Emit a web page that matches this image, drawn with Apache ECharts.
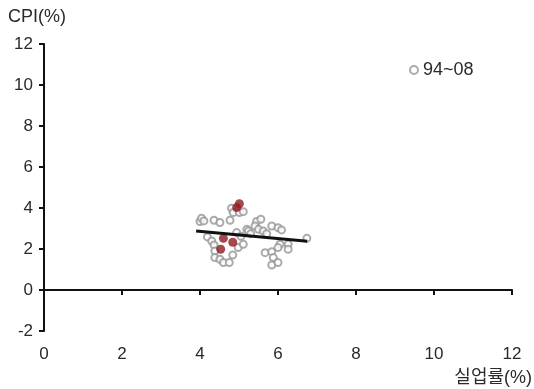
<!DOCTYPE html>
<html><head><meta charset="utf-8">
<script src="https://cdn.jsdelivr.net/npm/echarts@6/dist/echarts.min.js"></script>
<style>html,body{margin:0;padding:0;background:#fff}#c{width:534px;height:389px}</style>
</head><body><div id="c"></div>
<script>
// Data
const xTicks = [0, 2, 4, 6, 8, 10, 12];
const yTicks = [-2, 0, 2, 4, 6, 8, 10, 12];
const seriesGreyName = '94~08';
const greyX = [4.0,4.04,4.1,4.36,4.51,4.77,4.81,4.85,5.01,5.11,4.19,4.3,4.36,4.38,4.38,4.51,4.6,4.75,4.98,5.11,4.84,5.2,4.94,5.24,5.45,5.56,5.41,5.5,5.62,5.71,5.84,6.0,6.09,6.74,6.05,6.26,6.0,6.26,5.67,5.84,5.88,5.84,6.0,5.3,5.05];
const greyY = [3.34,3.5,3.37,3.4,3.29,3.4,3.99,3.78,3.78,3.82,2.59,2.39,2.2,1.9,1.58,1.5,1.34,1.34,2.07,2.23,1.71,2.96,2.8,2.88,3.34,3.45,3.12,2.96,2.88,2.75,3.12,3.04,2.93,2.52,2.23,2.23,2.07,1.99,1.82,1.87,1.58,1.22,1.34,2.75,2.62];
const redX = [4.94,5.01,4.6,4.84,4.53];
const redY = [4.02,4.21,2.52,2.33,1.99];
const trendX = [3.9, 6.75];
const trendY = [2.88, 2.38];

const zip = (a, b) => a.map((v, i) => [v, b[i]]);
const FONT = '"Liberation Sans", "Noto Sans CJK KR", sans-serif';
const TXT = '#2a2a2a';

const chart = echarts.init(document.getElementById('c'));
chart.setOption({
  animation: false,
  grid: {left: 44, right: 22, top: 44, bottom: 58},
  legend: {
    data: [{name: seriesGreyName, icon: 'emptyCircle'}],
    left: 404, top: 56, itemWidth: 8, itemHeight: 8, itemGap: 4,
    textStyle: {fontFamily: FONT, fontSize: 18, color: TXT}
  },
  graphic: [
    {type: 'text', left: 8, top: 8, style: {text: 'CPI(%)', fontFamily: FONT, fontSize: 18, fill: TXT}},
    {type: 'text', right: 2, top: 369, style: {text: '실업률(%)', fontFamily: FONT, fontSize: 18, fill: TXT}}
  ],
  xAxis: [{
    type: 'value', min: xTicks[0], max: xTicks[xTicks.length - 1], interval: 2,
    axisLine: {onZero: true, lineStyle: {color: '#111', width: 2}},
    axisTick: {show: true, inside: false, length: 5, lineStyle: {color: '#111', width: 2}},
    axisLabel: {show: false}, splitLine: {show: false}
  }, {
    type: 'value', position: 'bottom', min: xTicks[0], max: xTicks[xTicks.length - 1], interval: 2,
    axisLine: {show: false, onZero: false}, axisTick: {show: false}, splitLine: {show: false},
    axisLabel: {show: true, margin: 15, fontFamily: FONT, fontSize: 17, color: TXT}
  }],
  yAxis: {
    type: 'value', min: yTicks[0], max: yTicks[yTicks.length - 1], interval: 2,
    axisLine: {show: true, onZero: false, lineStyle: {color: '#111', width: 2}},
    axisTick: {show: true, inside: false, length: 5, lineStyle: {color: '#111', width: 2}},
    axisLabel: {margin: 11, fontFamily: FONT, fontSize: 17, color: TXT},
    splitLine: {show: false}
  },
  series: [
    {
      name: seriesGreyName, type: 'scatter', symbol: 'emptyCircle', symbolSize: 7,
      itemStyle: {color: '#969696', borderWidth: 2.2},
      data: zip(greyX, greyY), z: 2
    },
    {
      name: 'red', type: 'scatter', symbol: 'circle', symbolSize: 9,
      itemStyle: {color: '#8e1b22'},
      data: zip(redX, redY), z: 3
    },
    {
      name: 'trend', type: 'line', symbol: 'none',
      lineStyle: {color: '#111', width: 3},
      data: zip(trendX, trendY), z: 4
    }
  ]
});
</script>
</body></html>
